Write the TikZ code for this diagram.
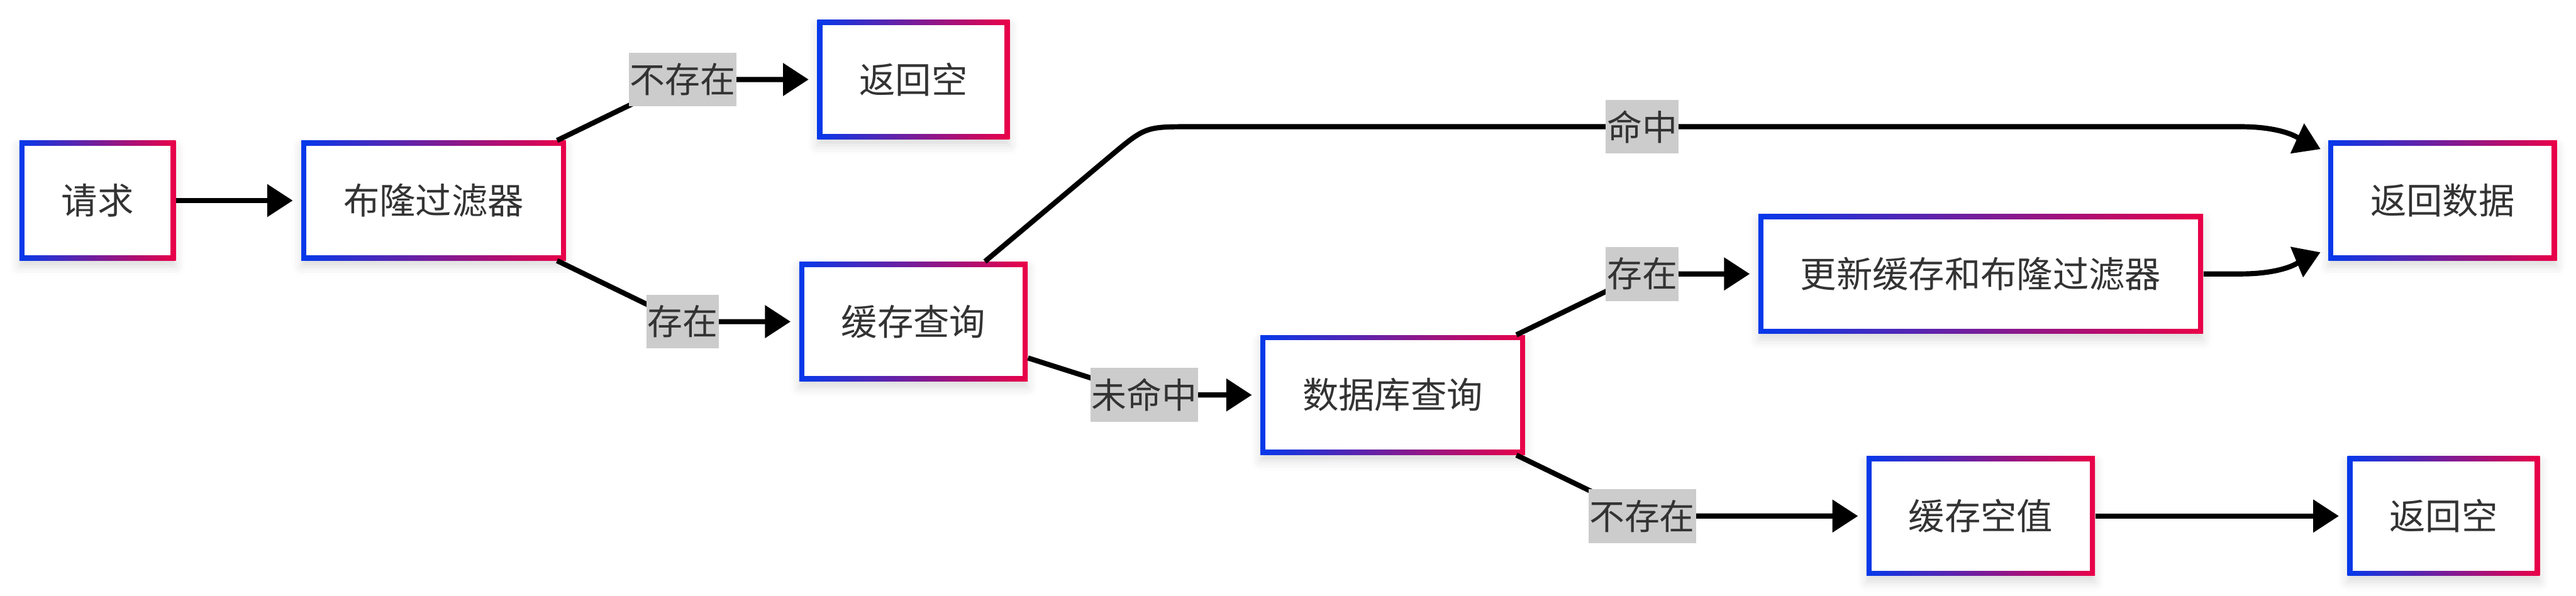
\documentclass[tikz,border=0pt]{standalone}
\usepackage{fontspec}
\newfontfamily\cjk{Noto Sans CJK SC}
\usetikzlibrary{arrows.meta,shadows.blur}
\definecolor{boxblue}{RGB}{5,57,235}
\definecolor{boxred}{RGB}{234,0,72}
\definecolor{txtgray}{RGB}{51,51,51}
\definecolor{lblgray}{RGB}{204,204,204}
\begin{document}
\begin{tikzpicture}[>={Triangle[length=0.5cm,width=0.62cm]},
    box/.style={fill=white,minimum height=2.33cm,inner xsep=0.82cm,text=txtgray,
        font=\cjk\fontsize{20}{24}\selectfont,
        blur shadow={shadow xshift=0cm,shadow yshift=-0.12cm,shadow blur radius=0.18cm,shadow opacity=14},
        path picture={
            \shade[left color=boxblue,right color=boxred] (path picture bounding box.south west) rectangle (path picture bounding box.north east);
            \fill[white] ([shift={(0.1,0.1)}]path picture bounding box.south west) rectangle ([shift={(-0.1,-0.1)}]path picture bounding box.north east);}},
    lbl/.style={fill=lblgray,inner xsep=0.02cm,inner ysep=0pt,minimum height=1.05cm,text=txtgray,
        font=\cjk\fontsize{19.5}{23}\selectfont},
    flow/.style={->,line width=0.1cm,shorten >=0.16cm}]
    \useasboundingbox (0,0) rectangle (50.20,11.61);
    % các khối
    \node[box] (req) at (1.90,7.70) {请求};
    \node[box] (bloom) at (8.45,7.70) {布隆过滤器};
    \node[box] (retnullA) at (17.80,10.06) {返回空};
    \node[box] (cacheq) at (17.80,5.34) {缓存查询};
    \node[box] (dbq) at (27.14,3.91) {数据库查询};
    \node[box] (update) at (38.60,6.27) {更新缓存和布隆过滤器};
    \node[box] (retdata) at (47.60,7.70) {返回数据};
    \node[box] (cachenull) at (38.60,1.55) {缓存空值};
    \node[box] (retnullB) at (47.62,1.55) {返回空};
    % các mũi tên
    \draw[flow] (req) -- (bloom);
    \draw[flow] (bloom) -- (13.30,10.06) node[lbl] (nolblA) {不存在} -- (retnullA);
    \draw[flow] (bloom) -- (13.30,5.34) node[lbl] (yeslblA) {存在} -- (cacheq);
    \draw[flow] (cacheq) -- (21.63,8.56) .. controls (22.32,9.14) .. (23.22,9.14)
        -- (32.00,9.14) node[lbl] (hitlbl) {命中} -- (43.66,9.14)
        .. controls (44.60,9.14) and (44.90,8.85) .. ([yshift=-0.235cm]retdata.north west);
    \draw[flow] (cacheq) -- (22.30,3.91) node[lbl] (misslbl) {未命中} -- (dbq);
    \draw[flow] (dbq) -- (32.00,6.27) node[lbl] (yeslblB) {存在} -- (update);
    \draw[flow] (dbq) -- (32.00,1.55) node[lbl] (nolblB) {不存在} -- (cachenull);
    \draw[flow] (update) -- (43.66,6.27)
        .. controls (44.60,6.27) and (44.90,6.56) .. ([yshift=0.225cm]retdata.south west);
    \draw[flow] (cachenull) -- (retnullB);
\end{tikzpicture}
\end{document}
